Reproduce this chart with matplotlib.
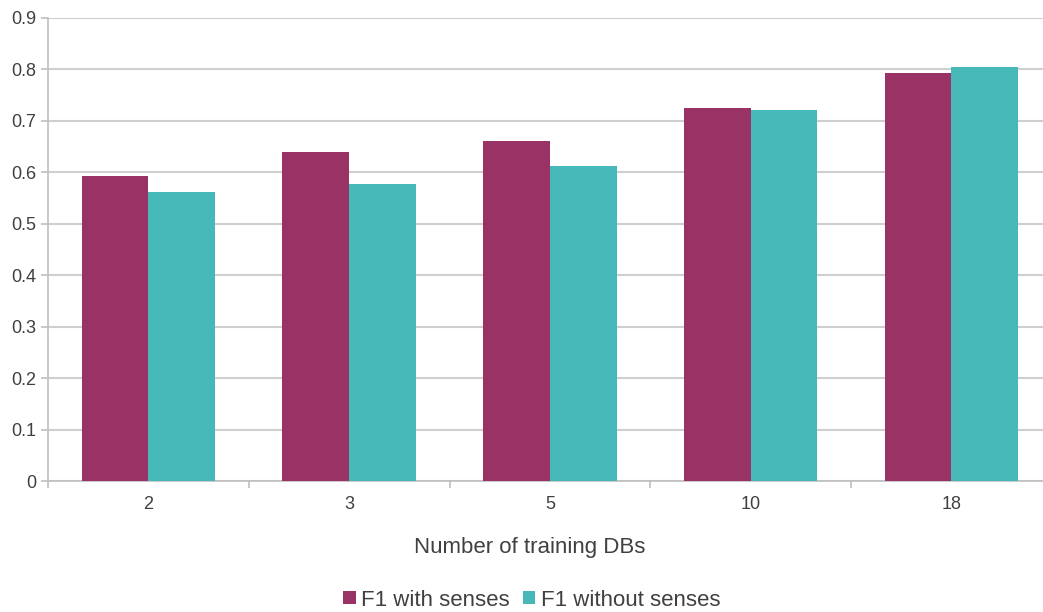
import matplotlib
matplotlib.use("Agg")
import matplotlib.pyplot as plt
import numpy as np

categories = ["2", "3", "5", "10", "18"]
f1_with = [0.592, 0.639, 0.660, 0.726, 0.793]
f1_without = [0.561, 0.577, 0.612, 0.722, 0.805]
series_names = ["F1 with senses", "F1 without senses"]
colors = ["#993366", "#47B8B8"]
yticks = [0, 0.1, 0.2, 0.3, 0.4, 0.5, 0.6, 0.7, 0.8, 0.9]
ytick_labels = ["0", "0.1", "0.2", "0.3", "0.4", "0.5", "0.6", "0.7", "0.8", "0.9"]

plt.rcParams['font.family'] = ['Liberation Sans', 'DejaVu Sans']
txt = "#404040"

W, H = 1043, 612
fig = plt.figure(figsize=(W/100, H/100), dpi=100)
ax = fig.add_axes([48/W, 1-481/H, (W-48)/W, (481-18)/H])

x = np.arange(len(categories))
bw = 0.332
ax.bar(x - bw/2, f1_with, bw, color=colors[0], label=series_names[0], zorder=3)
ax.bar(x + bw/2, f1_without, bw, color=colors[1], label=series_names[1], zorder=3)

ax.set_yticks(yticks)
ax.set_yticklabels(ytick_labels)
ax.set_xticks(x)
ax.set_xticklabels(categories)
ax.set_xticks(np.arange(len(categories) + 1) - 0.5, minor=True)
ax.set_ylim(0, 0.9)
ax.set_xlim(-0.5, -0.5 + (W-48)/200.75)

ax.yaxis.grid(True, color="#cfcfcf", linewidth=1.5, zorder=0)
ax.set_axisbelow(True)
for s in ["top", "right"]:
    ax.spines[s].set_visible(False)
for s in ["left", "bottom"]:
    ax.spines[s].set_color("#bfbfbf")
    ax.spines[s].set_linewidth(1.2)

ax.tick_params(axis="y", length=5, color="#bfbfbf", width=1.2, labelsize=13, labelcolor=txt, pad=3.5)
ax.tick_params(axis="x", which="major", length=0, labelsize=13, labelcolor=txt, pad=11)
ax.tick_params(axis="x", which="minor", length=5, color="#bfbfbf", width=1.2)

fig.text(530/W, 1-548/H, "Number of training DBs", ha="center", va="center",
         fontsize=16, color=txt)

handles, labels = ax.get_legend_handles_labels()
fig.legend(handles, labels, loc="center", bbox_to_anchor=(532/W, 1-600/H), ncol=2,
           frameon=False, fontsize=16, labelcolor=txt, handlelength=0.55,
           handleheight=0.55, handletextpad=0.25, columnspacing=0.6)

fig.savefig("out.png", dpi=100)
